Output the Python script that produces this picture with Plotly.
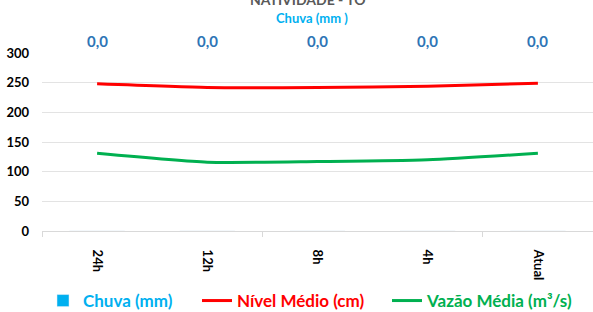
import plotly.graph_objects as go

categories = ["24h", "12h", "8h", "4h", "Atual"]
chuva = [0.0, 0.0, 0.0, 0.0, 0.0]
nivel = [248, 242, 242, 244, 249]
vazao = [131, 116, 117, 120, 131]
y_ticks = [0, 50, 100, 150, 200, 250, 300]

FONT = "Lato"
xi = list(range(len(categories)))

L, R, T, B = 42, 0, 53, 81
W = 593 - L - R

def px_to_paper_x(px):
    return (px - L) / W

LEG_FONT = dict(family=FONT, size=17, weight="bold")

fig = go.Figure()
fig.add_trace(go.Bar(
    x=xi, y=chuva, yaxis="y2",
    name="<span style='color:#00B0F0'>Chuva (mm)</span>",
    marker_color="#00B0F0", showlegend=True, legend="legend",
))
fig.add_trace(go.Scatter(
    x=xi, y=nivel, mode="lines", legend="legend2",
    name="<span style='color:#FF0000'>Nível Médio (cm)</span>",
    line=dict(color="#FF0000", width=3, shape="spline", smoothing=0.6),
))
fig.add_trace(go.Scatter(
    x=xi, y=vazao, mode="lines", legend="legend3",
    name="<span style='color:#00B050'>Vazão Média (m³/s)</span>",
    line=dict(color="#00B050", width=3, shape="spline", smoothing=0.6),
))

annotations = []
for i, v in enumerate(chuva):
    annotations.append(dict(
        x=i, y=1.069, xref="x", yref="paper", yanchor="middle",
        text=f"{v:.1f}".replace(".", ","), showarrow=False,
        font=dict(family=FONT, size=15, color="#2E75B6", weight="bold"),
    ))
annotations.append(dict(
    x=px_to_paper_x(312), y=1.197, xref="paper", yref="paper", yanchor="middle",
    text="Chuva (mm )", showarrow=False,
    font=dict(family=FONT, size=13, color="#00B0F0", weight="bold"),
))
annotations.append(dict(
    x=px_to_paper_x(308), y=1.303, xref="paper", yref="paper", yanchor="middle",
    text="NATIVIDADE - TO", showarrow=False,
    font=dict(family=FONT, size=14, color="#595959", weight="bold"),
))

leg_y = (312 - 301) / 312

def leg(px_text_start):
    return dict(
        orientation="h", x=px_to_paper_x(px_text_start - 40), xanchor="left",
        yref="container", y=leg_y, yanchor="middle",
        font=LEG_FONT, itemwidth=30, bgcolor="rgba(0,0,0,0)",
    )

fig.update_layout(
    width=593, height=312,
    margin=dict(l=L, r=R, t=T, b=B),
    plot_bgcolor="white", paper_bgcolor="white",
    font=dict(family=FONT, color="black"),
    xaxis=dict(
        range=[-0.5, len(categories) - 0.5],
        tickvals=xi, ticktext=categories, tickangle=90,
        tickfont=dict(family=FONT, size=13, color="black", weight="bold"),
        showgrid=False, zeroline=False, automargin=False,
        showline=True, linecolor="#D9D9D9", linewidth=1,
        ticks="", ticklabelstandoff=15,
        minor=dict(ticks="outside", tick0=-0.5, dtick=2, ticklen=5,
                   tickcolor="#D9D9D9", showgrid=False),
    ),
    yaxis=dict(
        range=[0, 300], tickvals=y_ticks, automargin=False,
        tickfont=dict(family=FONT, size=13, color="black", weight="bold"),
        showgrid=True, gridcolor="#E3E3E3", gridwidth=1,
        zeroline=False, showline=False, ticks="", ticklabelstandoff=12,
    ),
    yaxis2=dict(overlaying="y", side="right", range=[0, 1], visible=False),
    legend=leg(83),
    legend2=leg(237),
    legend3=leg(427),
    annotations=annotations,
    bargap=0.5,
)

fig.write_html(
    "out.html",
    config={"displayModeBar": False},
    post_script="document.body.style.margin='0';document.body.style.overflow='hidden';",
)
